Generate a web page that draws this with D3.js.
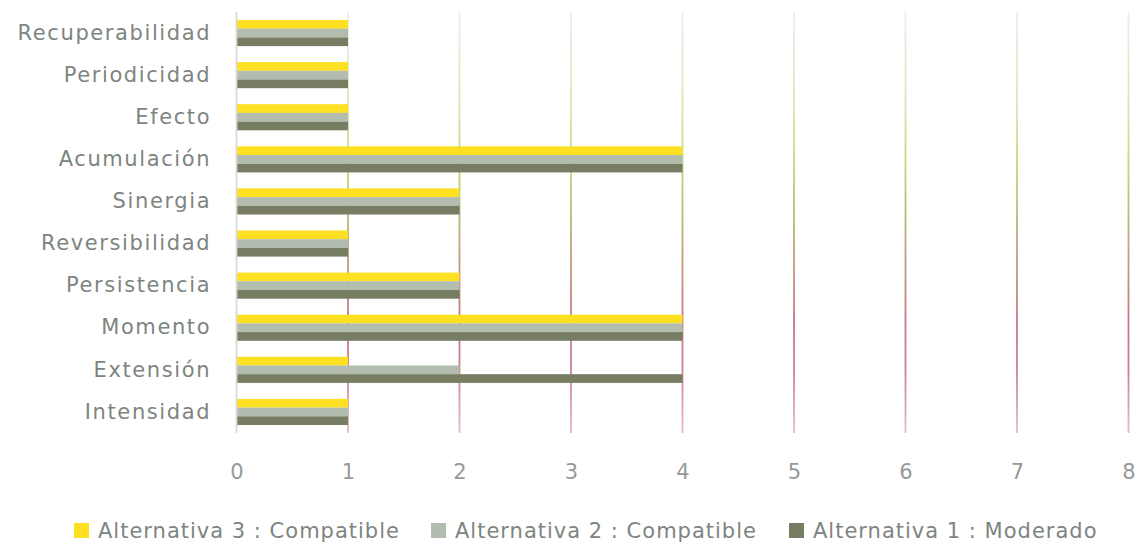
<!DOCTYPE html>
<html>
<head>
<meta charset="utf-8">
<script src="https://cdn.jsdelivr.net/npm/d3@7"></script>
<style>
  html, body { margin: 0; padding: 0; background: #fff; }
  svg { display: block; }
  text { font-family: "DejaVu Sans", sans-serif; fill: #7d8580; }
</style>
</head>
<body>
<svg id="chart" width="1141" height="545"></svg>
<script>
// Criteria, top to bottom
const categories = ["Recuperabilidad", "Periodicidad", "Efecto", "Acumulación", "Sinergia",
  "Reversibilidad", "Persistencia", "Momento", "Extensión", "Intensidad"];
const seriesNames = ["Alternativa 3 : Compatible", "Alternativa 2 : Compatible", "Alternativa 1 : Moderado"];
const alt3 = [1, 1, 1, 4, 2, 1, 2, 4, 1, 1];
const alt2 = [1, 1, 1, 4, 2, 1, 2, 4, 2, 1];
const alt1 = [1, 1, 1, 4, 2, 1, 2, 4, 4, 1];
const xTicks = [0, 1, 2, 3, 4, 5, 6, 7, 8];
const colors = ["#fde021", "#b2bdb0", "#767d63"];

const seriesValues = [alt3, alt2, alt1];
const svg = d3.select("#chart");
const m = { left: 236.5, right: 1128.5, top: 12, bottom: 433 };

const x = d3.scaleLinear().domain([0, 8]).range([m.left, m.right]);
const y = d3.scaleBand().domain(categories).range([m.top, m.bottom]).paddingInner(0.38).paddingOuter(0.19);
const ySub = d3.scaleBand().domain(seriesNames).range([0, y.bandwidth()]);

// Vertical gradient for the gridlines
const defs = svg.append("defs");
const grad = defs.append("linearGradient")
  .attr("id", "gridGrad").attr("gradientUnits", "userSpaceOnUse")
  .attr("x1", 0).attr("x2", 0).attr("y1", m.top).attr("y2", m.bottom);
[[0, "#f3eaea"], [0.07, "#ede8dc"], [0.21, "#d6eab4"], [0.35, "#bddc82"], [0.47, "#b6bf7c"],
 [0.55, "#bfa676"], [0.63, "#c4937e"], [0.73, "#c47a84"], [0.85, "#c8828b"], [1, "#e6bcc2"]]
  .forEach(([o, c]) => grad.append("stop").attr("offset", o).attr("stop-color", c));

// Gridlines
svg.append("g").selectAll("line").data(xTicks.filter(d => d > 0)).join("line")
  .attr("x1", d => x(d)).attr("x2", d => x(d))
  .attr("y1", m.top).attr("y2", m.bottom)
  .attr("stroke", "url(#gridGrad)").attr("stroke-width", 1.8);

// Bars
const groups = svg.append("g").selectAll("g").data(categories).join("g")
  .attr("transform", d => `translate(0,${y(d)})`);
groups.selectAll("rect")
  .data((c, i) => seriesNames.map((s, k) => ({ s, k, v: seriesValues[k][i] })))
  .join("rect")
  .attr("x", x(0))
  .attr("y", d => ySub(d.s))
  .attr("width", d => x(d.v) - x(0))
  .attr("height", ySub.bandwidth())
  .attr("fill", d => colors[d.k]);

// Zero axis line
svg.append("line")
  .attr("x1", x(0)).attr("x2", x(0)).attr("y1", m.top).attr("y2", m.bottom)
  .attr("stroke", "#d9d9d9").attr("stroke-width", 1.8);

// Category labels
const yAxis = svg.append("g").attr("transform", `translate(${m.left - 27},0)`)
  .call(d3.axisLeft(y).tickSize(0).tickPadding(0));
yAxis.select(".domain").remove();
yAxis.selectAll("text").attr("font-size", 21).style("fill", "#7d8580")
  .attr("letter-spacing", 1.6).attr("dx", 1.6)
  .attr("font-family", "DejaVu Sans, sans-serif");

// Value axis labels
const xAxis = svg.append("g").attr("transform", `translate(0,${m.bottom + 31})`)
  .call(d3.axisBottom(x).tickValues(xTicks).tickSize(0).tickPadding(0).tickFormat(d3.format("d")));
xAxis.select(".domain").remove();
xAxis.selectAll("text").attr("font-size", 21).style("fill", "#959a97")
  .attr("font-family", "DejaVu Sans, sans-serif");

// Legend
const legendX = [74, 431, 789];
const legend = svg.append("g").selectAll("g").data(seriesNames).join("g")
  .attr("transform", (d, i) => `translate(${legendX[i]},523)`);
legend.append("rect").attr("width", 15).attr("height", 15).attr("fill", (d, i) => colors[i]);
legend.append("text").attr("x", 24).attr("y", 7.5).attr("dy", "0.36em")
  .attr("font-size", 21).attr("letter-spacing", 1.0).text(d => d);
</script>
</body>
</html>
